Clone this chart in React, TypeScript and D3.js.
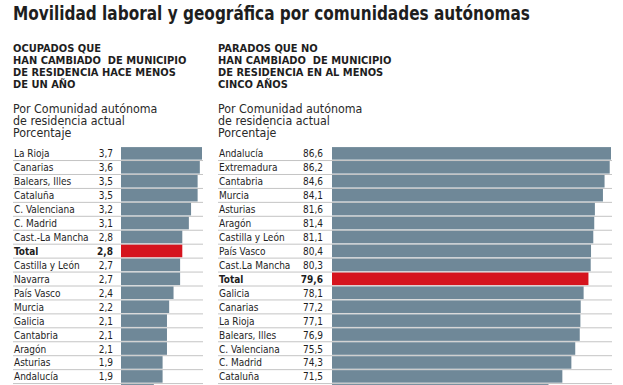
import * as d3 from "d3";

const W = 623;
const H = 385;

const title = "Movilidad laboral y geográfica por comunidades autónomas";

const leftHeading = ["OCUPADOS QUE", "HAN CAMBIADO  DE MUNICIPIO", "DE RESIDENCIA HACE MENOS", "DE UN AÑO"];
const rightHeading = ["PARADOS QUE NO", "HAN CAMBIADO  DE MUNICIPIO", "DE RESIDENCIA EN AL MENOS", "CINCO AÑOS"];
const subLines = ["Por Comunidad autónoma", "de residencia actual", "Porcentaje"];

// ocupados que cambiaron de municipio hace menos de un año
const leftNames = [
  "La Rioja", "Canarias", "Balears, Illes", "Cataluña", "C. Valenciana", "C. Madrid",
  "Cast.-La Mancha", "Total", "Castilla y León", "Navarra", "País Vasco", "Murcia",
  "Galicia", "Cantabria", "Aragón", "Asturias", "Andalucía", "Extremadura",
];
const leftValues = [3.7, 3.6, 3.5, 3.5, 3.2, 3.1, 2.8, 2.8, 2.7, 2.7, 2.4, 2.2, 2.1, 2.1, 2.1, 1.9, 1.9, 1.5];

// parados que no cambiaron de municipio en al menos cinco años
const rightNames = [
  "Andalucía", "Extremadura", "Cantabria", "Murcia", "Asturias", "Aragón",
  "Castilla y León", "País Vasco", "Cast.La Mancha", "Total", "Galicia", "Canarias",
  "La Rioja", "Balears, Illes", "C. Valenciana", "C. Madrid", "Cataluña", "Navarra",
];
const rightValues = [86.6, 86.2, 84.6, 84.1, 81.6, 81.4, 81.1, 80.4, 80.3, 79.6, 78.1, 77.2, 77.1, 76.9, 75.5, 74.3, 71.5, 67.2];

const FONT = "'Liberation Sans Narrow', 'DejaVu Sans Condensed', 'Liberation Sans', sans-serif";
const BAR = "#6f8898";
const RED = "#d5141e";
const INK = "#1e1e1e";

const fmt = (v: number) => d3.format(".1f")(v).replace(".", ",");

type PanelProps = {
  names: string[];
  values: number[];
  x0: number;
  valueX: number;
  barX: number;
  barMax: number;
  lineEnd: number;
  maxVal: number;
};

function Panel({ names, values, x0, valueX, barX, barMax, lineEnd, maxVal }: PanelProps) {
  const step = 13.94;
  const y = d3.scaleBand<string>()
    .domain(names)
    .range([146.4, 146.4 + names.length * step])
    .paddingInner(0.1)
    .paddingOuter(0.05);
  const x = d3.scaleLinear().domain([0, maxVal]).range([barX, barMax]);
  const bw = y.bandwidth();
  const sx = 0.91;

  return (
    <g>
      {names.map((n, i) => {
        const yy = y(n)!;
        const yb = yy + bw / 2 + 4;
        const total = n === "Total";
        return (
          <g key={n}>
            <line x1={x0} x2={lineEnd} y1={yy + bw + 0.9} y2={yy + bw + 0.9} stroke="#c4c4c4" strokeWidth={1} />
            <rect x={x(0)} y={yy} width={x(values[i]) - x(0)} height={bw} fill={total ? RED : BAR} />
            <text transform={`translate(${x0 + 1},${yb}) scale(${sx},1)`} fontSize={11} fontWeight={total ? "bold" : "normal"} fill={INK}>{n}</text>
            <text transform={`translate(${valueX},${yb}) scale(${sx},1)`} fontSize={11} textAnchor="end" fontWeight={total ? "bold" : "normal"} fill={INK}>{fmt(values[i])}</text>
          </g>
        );
      })}
    </g>
  );
}

function Header({ x, lines }: { x: number; lines: string[] }) {
  return (
    <g>
      {lines.map((l, i) => (
        <text key={i} x={x} y={52 + i * 12} fontSize={11} fontWeight="bold" fill={INK} style={{ whiteSpace: "pre" }}>{l}</text>
      ))}
      {subLines.map((l, i) => (
        <text key={"s" + i} transform={`translate(${x},${112.5 + i * 12}) scale(0.95,1)`} fontSize={13} fill="#2a2a2a">{l}</text>
      ))}
    </g>
  );
}

export default function App() {
  return (
    <svg width={W} height={H} style={{ position: "absolute", left: 0, top: 0, background: "#fff" }} fontFamily={FONT}>
      <rect width={W} height={H} fill="#fff" />
      <text x={13} y={20} fontSize={19.5} fontWeight="bold" fill={INK} textLength={517} lengthAdjust="spacingAndGlyphs">{title}</text>
      <Header x={13} lines={leftHeading} />
      <Header x={218} lines={rightHeading} />
      <Panel names={leftNames} values={leftValues} x0={13} valueX={113} barX={121} barMax={202} lineEnd={203} maxVal={3.7} />
      <Panel names={rightNames} values={rightValues} x0={218} valueX={323} barX={332} barMax={611} lineEnd={612} maxVal={86.6} />
    </svg>
  );
}
